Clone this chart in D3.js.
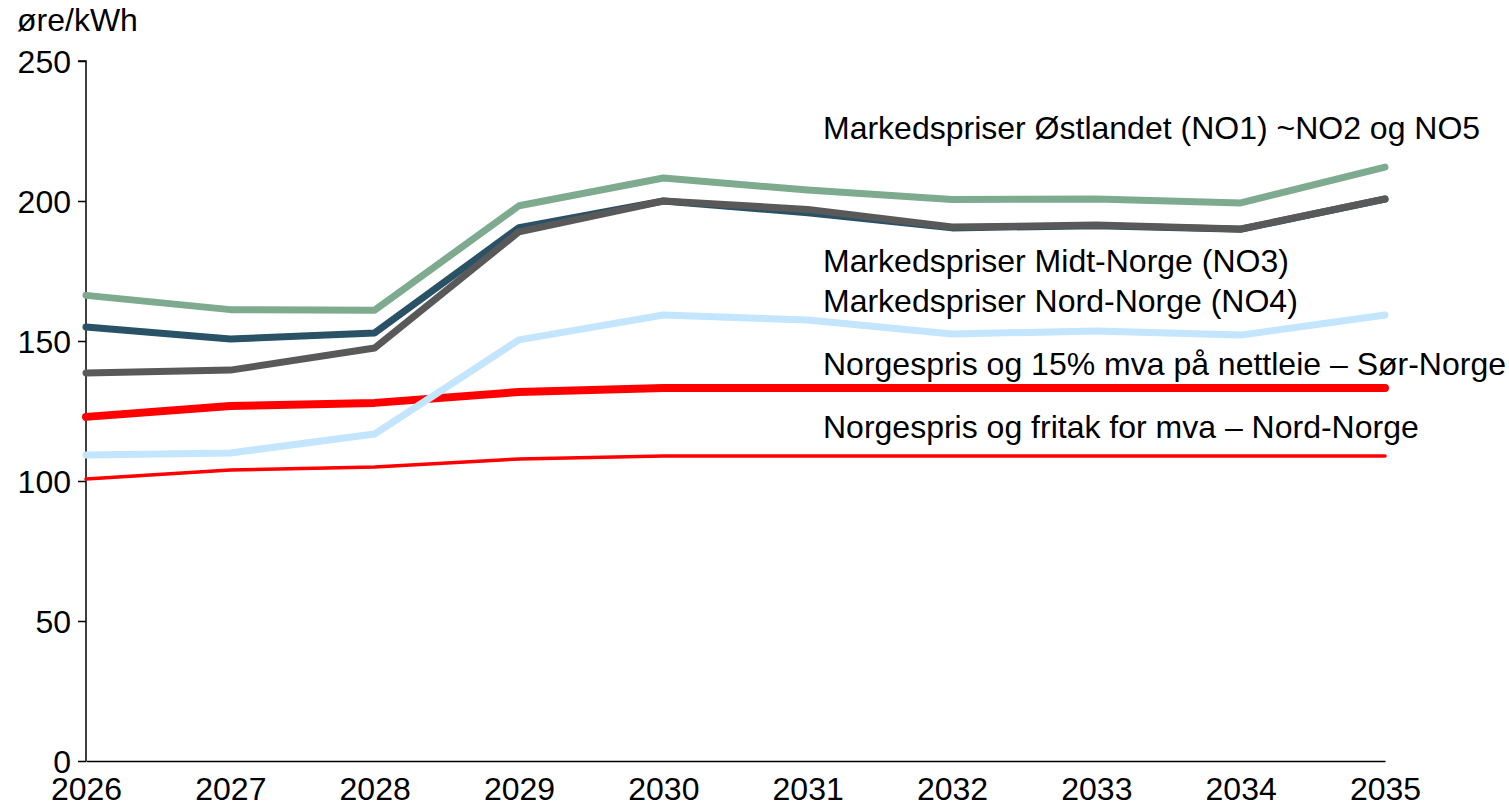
<!DOCTYPE html>
<html>
<head>
<meta charset="utf-8">
<script src="https://cdn.jsdelivr.net/npm/d3@7"></script>
<style>
  body { margin: 0; background: #fff; }
  svg text { font-family: "Liberation Sans", Arial, sans-serif; fill: #000; }
</style>
</head>
<body>
<div id="chart"></div>
<script>
const years = d3.range(2026, 2036);
const yTicks = [0, 50, 100, 150, 200, 250];
const unitLabel = "øre/kWh";

const seriesNames = [
    "Norgespris og fritak for mva – Nord-Norge",
    "Norgespris og 15% mva på nettleie – Sør-Norge",
    "Markedspriser Østlandet (NO1) ~NO2 og NO5",
    "Markedspriser Midt-Norge (NO3)",
    "Markedspriser Nord-Norge (NO4)"
];

const redThin   = [100.7, 103.9, 105.0, 107.9, 108.9, 108.9, 108.9, 108.9, 108.9, 108.9];
const redThick  = [122.9, 126.8, 127.9, 131.8, 133.2, 133.2, 133.2, 133.2, 133.2, 133.2];
const green     = [166.3, 161.2, 161.0, 198.3, 208.2, 203.9, 200.5, 200.7, 199.3, 212.1];
const darkBlue  = [155.0, 150.7, 152.9, 190.5, 200.0, 195.8, 190.4, 191.2, 189.9, 200.7];
const grey      = [138.6, 139.6, 147.5, 189.0, 200.0, 197.0, 190.7, 191.4, 190.0, 200.7];
const lightBlue = [109.3, 110.0, 116.8, 150.4, 159.3, 157.5, 152.5, 153.6, 152.1, 159.3];

const W = 1509, H = 804;
const margin = {left: 86, right: 124, top: 61, bottom: 43};
const fontSize = 32;

const svg = d3.select("#chart")
              .append("svg")
              .attr("width", W)
              .attr("height", H);

const x = d3.scaleLinear()
            .domain([2026, 2035])
            .range([margin.left, W - margin.right]);

const y = d3.scaleLinear()
            .domain([0, 250])
            .range([H - margin.bottom, margin.top]);

// y axis
const yAxis = svg.append("g")
                 .attr("transform", "translate(" + margin.left + ",0)")
                 .call(d3.axisLeft(y).tickValues(yTicks).tickSize(8).tickPadding(7));
yAxis.select(".domain")
     .attr("d", "M-8," + y(250) + "H0V" + y(0))
     .attr("stroke", "#000").attr("stroke-width", 1.5);
yAxis.selectAll("line").attr("stroke", "#000").attr("stroke-width", 1.5);
yAxis.selectAll("text")
     .attr("font-size", fontSize)
     .attr("dy", "0.36em");

// x axis
const xAxis = svg.append("g")
                 .attr("transform", "translate(0," + y(0) + ")")
                 .call(d3.axisBottom(x).tickValues(years).tickFormat(d3.format("d")).tickSize(0).tickPadding(16));
xAxis.select(".domain").attr("stroke", "#000").attr("stroke-width", 1.5);
xAxis.selectAll("text")
     .attr("font-size", fontSize)
     .attr("dy", "0.72em");

svg.append("text")
   .attr("x", 17)
   .attr("y", 31)
   .attr("font-size", fontSize)
   .text(unitLabel);

const line = d3.line()
               .x(function(d, i) { return x(years[i]); })
               .y(function(d) { return y(d); });

const lines = [
    {values: redThin,   color: "#ff0000", width: 3.5},
    {values: redThick,  color: "#ff0000", width: 8},
    {values: lightBlue, color: "#c3e5fd", width: 7},
    {values: green,     color: "#7eaa90", width: 7},
    {values: darkBlue,  color: "#2a5266", width: 7},
    {values: grey,      color: "#595959", width: 7}
];

svg.selectAll(".series")
   .data(lines)
   .enter()
   .append("path")
   .attr("class", "series")
   .attr("fill", "none")
   .attr("stroke", function(d) { return d.color; })
   .attr("stroke-width", function(d) { return d.width; })
   .attr("stroke-linecap", "round")
   .attr("stroke-linejoin", "round")
   .attr("d", function(d) { return line(d.values); });

// labels, placed by value on the y scale
const labels = [
    {text: seriesNames[2], v: 222.3},
    {text: seriesNames[3], v: 174.8},
    {text: seriesNames[4], v: 160.5},
    {text: seriesNames[1], v: 138.0},
    {text: seriesNames[0], v: 115.2}
];

svg.selectAll(".label")
   .data(labels)
   .enter()
   .append("text")
   .attr("class", "label")
   .attr("x", 823)
   .attr("y", function(d) { return y(d.v); })
   .attr("font-size", fontSize)
   .text(function(d) { return d.text; });
</script>
</body>
</html>
